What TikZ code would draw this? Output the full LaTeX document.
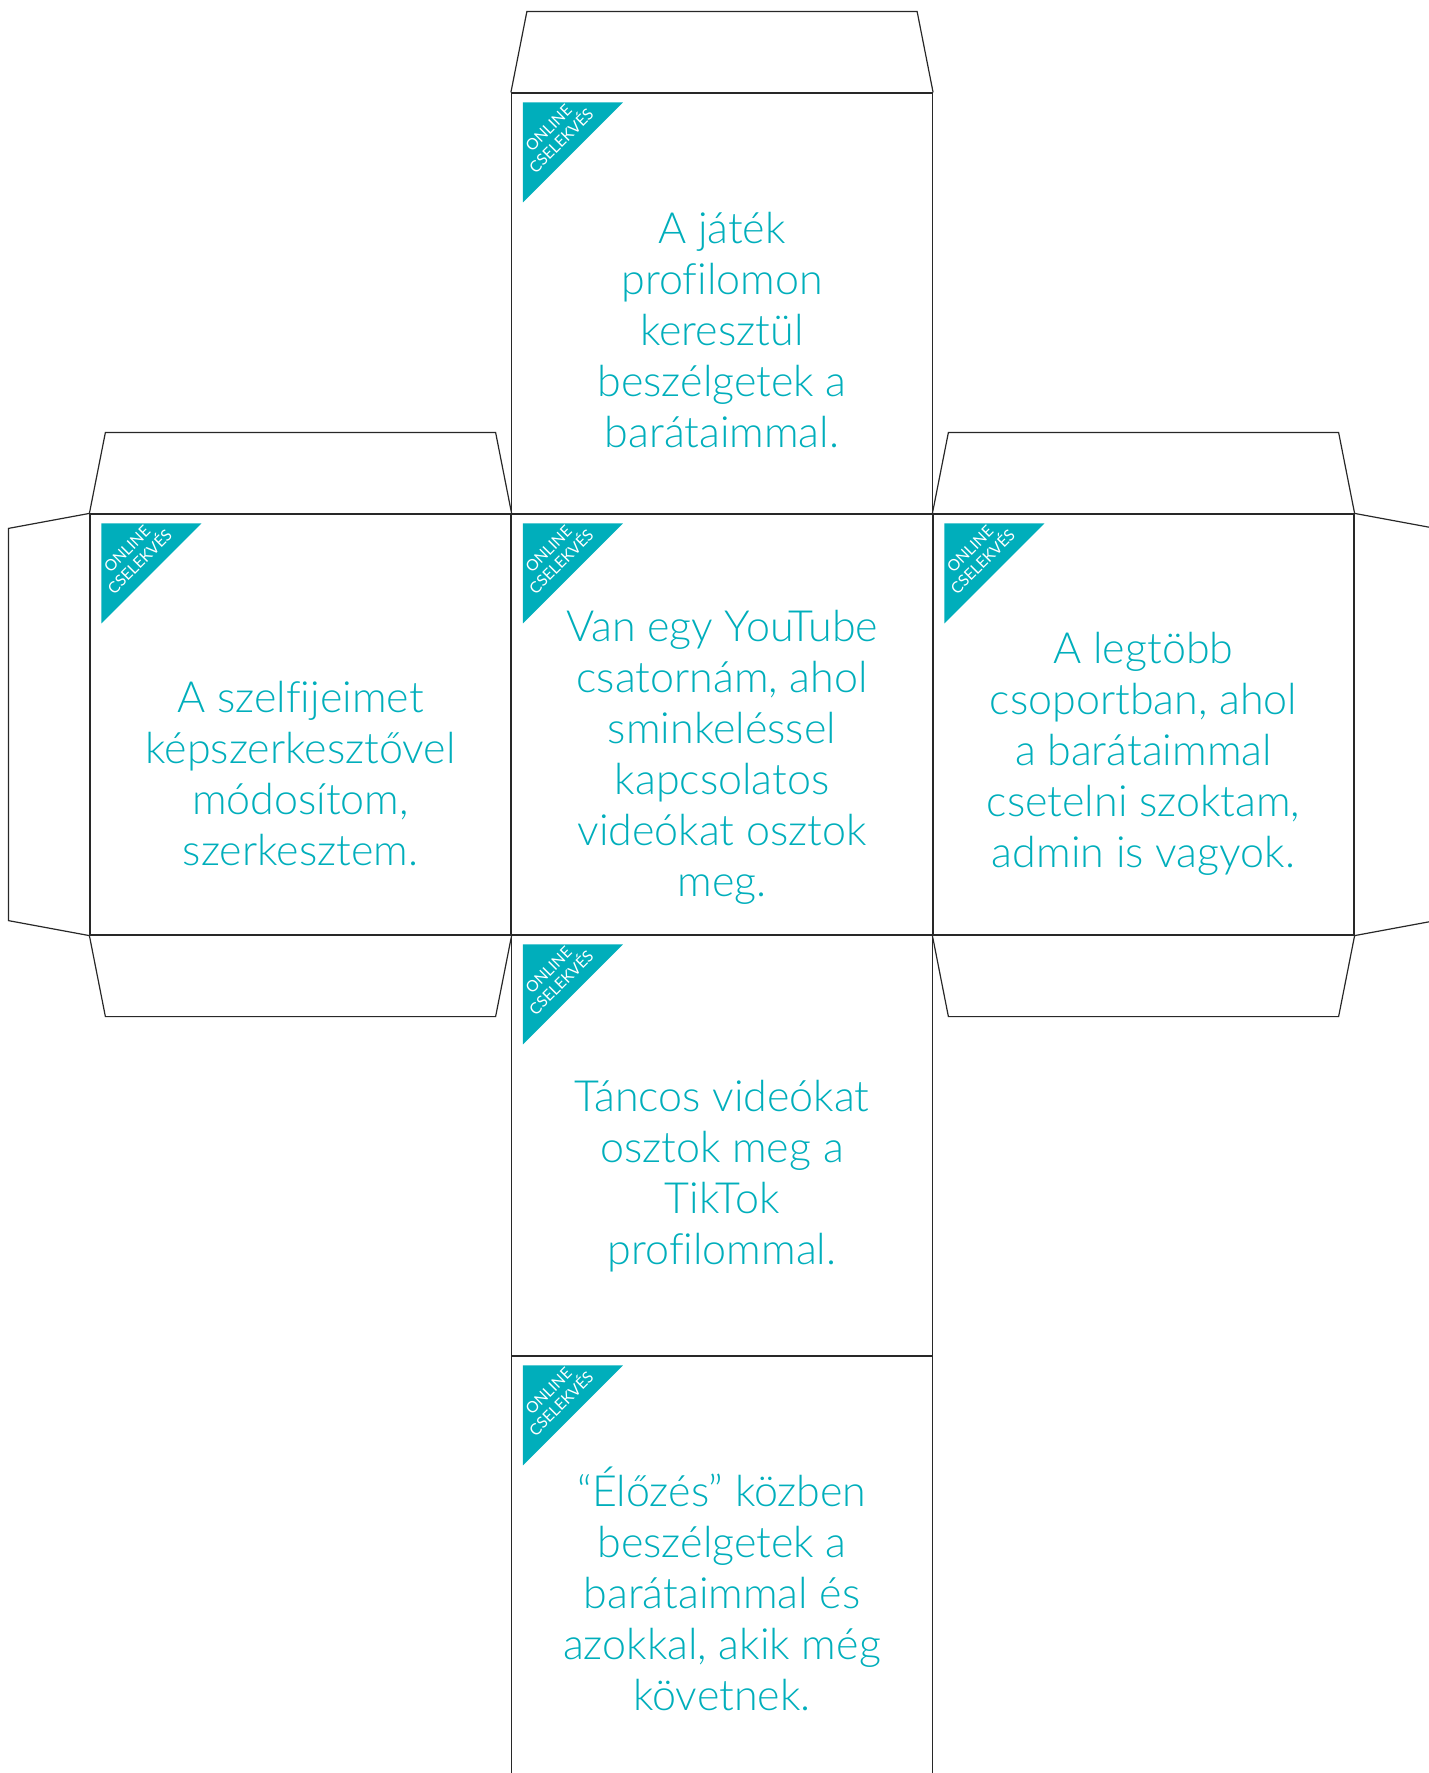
\documentclass[tikz,border=0pt]{standalone}
\usepackage{fontspec}
\setmainfont{Lato}[UprightFont={* Light},Ligatures=NoCommon]
\newfontfamily\tagfont{Lato}
\usetikzlibrary{positioning}
\definecolor{teal}{RGB}{0,174,187}
\definecolor{cutline}{RGB}{40,40,40}
\tikzset{face/.style = {shape=rectangle,draw=cutline,line width=0.6pt,minimum size=210.5pt,inner sep=0pt}}
\tikzset{flap/.style = {draw=cutline,line width=0.6pt,line join=miter}}
\tikzset{facetext/.style = {align=center,text=teal,font=\fontsize{21.5}{25.5}\selectfont}}
\tikzset{tag/.style = {align=center,text=white,rotate=45,inner sep=0pt,font=\tagfont\fontsize{7.8}{9}\selectfont}}

\begin{document}
\begin{tikzpicture}[x=0.5pt,y=-0.5pt]

\useasboundingbox (0,0) rectangle (1429,1773);

% the six faces of the box
\node[face] (top) at (722,303.5) {};
\node[face] (mid) at (722,724.5) {};
\node[face] (left) at (300.5,724.5) {};
\node[face] (right) at (1143.5,724.5) {};
\node[face] (bot) at (722,1145.5) {};
\node[face] (base) at (722,1566.5) {};

% glue flaps
\foreach \f in {top,left,right}
  \draw[flap] (\f.north west) -- ([xshift=8pt,yshift=40.5pt]\f.north west)
    -- ([xshift=-8pt,yshift=40.5pt]\f.north east) -- (\f.north east);
\foreach \f in {left,right}
  \draw[flap] (\f.south west) -- ([xshift=8pt,yshift=-40.5pt]\f.south west)
    -- ([xshift=-8pt,yshift=-40.5pt]\f.south east) -- (\f.south east);
\draw[flap] (left.north west) -- ([xshift=-40.5pt,yshift=-7.5pt]left.north west)
  -- ([xshift=-40.5pt,yshift=7.5pt]left.south west) -- (left.south west);
\draw[flap] (right.north east) -- ([xshift=40.5pt,yshift=-7.5pt]right.north east)
  -- ([xshift=40.5pt,yshift=7.5pt]right.south east) -- (right.south east);

% corner tags
\foreach \f in {top,mid,left,right,bot,base} {
  \fill[teal] ([xshift=6pt,yshift=-5pt]\f.north west) coordinate (\f-c)
    -- ++(50pt,0pt) -- ++(-50pt,-50pt) -- cycle;
  \node[tag] (\f-tag) at ([xshift=22pt,yshift=-21pt]\f.north west) {ONLINE\\CSELEKVÉS};
}

% texts
\node[facetext] (top-txt) at ([yshift=-13.5pt]top.center)
  {A játék\\profilomon\\keresztül\\beszélgetek a\\barátaimmal.};
\node[facetext] (mid-txt) at ([yshift=-16.3pt]mid.center)
  {Van egy YouTube\\csatornám, ahol\\sminkeléssel\\kapcsolatos\\videókat osztok\\meg.};
\node[facetext] (left-txt) at ([yshift=-24.5pt]left.center)
  {A szelfijeimet\\képszerkesztővel\\módosítom,\\szerkesztem.};
\node[facetext] (right-txt) at ([yshift=-14.7pt]right.center)
  {A legtöbb\\csoportban, ahol\\a barátaimmal\\csetelni szoktam,\\admin is vagyok.};
\node[facetext] (bot-txt) at ([yshift=-15.3pt]bot.center)
  {Táncos videókat\\osztok meg a\\TikTok\\profilommal.};
\node[facetext] (base-txt) at ([yshift=-11.3pt]base.center)
  {“Élőzés” közben\\beszélgetek a\\barátaimmal és\\azokkal, akik még\\követnek.};

\end{tikzpicture}
\end{document}
